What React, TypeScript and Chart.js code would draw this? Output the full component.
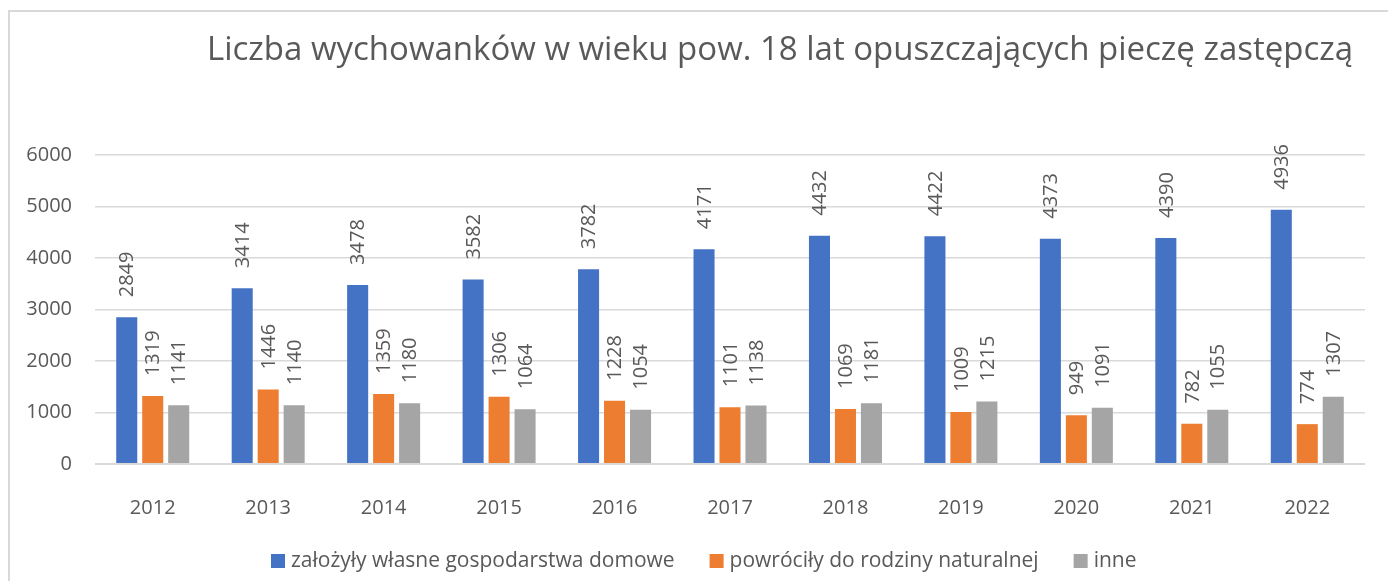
import React, { useEffect, useRef } from "react";
import { Chart, registerables } from "chart.js";

Chart.register(...registerables);

const TITLE = "Liczba wychowanków w wieku pow. 18 lat opuszczających pieczę zastępczą";
const categories = ["2012", "2013", "2014", "2015", "2016", "2017", "2018", "2019", "2020", "2021", "2022"];
const seriesNames = ["założyły własne gospodarstwa domowe", "powróciły do rodziny naturalnej", "inne"];
const ownHousehold = [2849, 3414, 3478, 3582, 3782, 4171, 4432, 4422, 4373, 4390, 4936];
const returnedFamily = [1319, 1446, 1359, 1306, 1228, 1101, 1069, 1009, 949, 782, 774];
const other = [1141, 1140, 1180, 1064, 1054, 1138, 1181, 1215, 1091, 1055, 1307];
const yTicks = [0, 1000, 2000, 3000, 4000, 5000, 6000];

const COLORS = ["#4472C4", "#ED7D31", "#A5A5A5"];
const TEXT = "#595959";
const FONT = "'Open Sans', 'Noto Sans', sans-serif";

const overlayPlugin = {
  id: "overlay",
  afterDatasetsDraw(chart: any) {
    const ctx = chart.ctx;
    ctx.save();
    ctx.fillStyle = TEXT;
    ctx.font = `20px ${FONT}`;
    chart.data.datasets.forEach((ds: any, i: number) => {
      const meta = chart.getDatasetMeta(i);
      meta.data.forEach((el: any, j: number) => {
        ctx.save();
        ctx.translate(el.x + 1, el.y - 20);
        ctx.rotate(-Math.PI / 2);
        ctx.textAlign = "left";
        ctx.textBaseline = "middle";
        ctx.fillText(String(ds.data[j]), 0, 0);
        ctx.restore();
      });
    });
    ctx.restore();
  },
  afterDraw(chart: any) {
    const ctx = chart.ctx;
    ctx.save();
    // title
    ctx.fillStyle = TEXT;
    ctx.font = `33px ${FONT}`;
    ctx.textAlign = "center";
    ctx.textBaseline = "middle";
    ctx.fillText(TITLE, 780, 51);
    // legend
    ctx.font = `21px ${FONT}`;
    ctx.textAlign = "left";
    let x = 271;
    const y = 561;
    seriesNames.forEach((name, i) => {
      ctx.fillStyle = COLORS[i];
      ctx.fillRect(x, y - 7, 14, 14);
      ctx.fillStyle = TEXT;
      ctx.fillText(name, x + 20, y);
      x += 20 + ctx.measureText(name).width + 35;
    });
    ctx.restore();
  },
};

export default function App() {
  const ref = useRef<HTMLCanvasElement | null>(null);
  useEffect(() => {
    if (!ref.current) return;
    const chart = new Chart(ref.current, {
      type: "bar",
      data: {
        labels: categories,
        datasets: [ownHousehold, returnedFamily, other].map((d, i) => ({
          label: seriesNames[i],
          data: d,
          backgroundColor: COLORS[i],
          borderWidth: 0,
          categoryPercentage: 0.675,
          barPercentage: 0.81,
        })),
      },
      options: {
        responsive: false,
        animation: false,
        devicePixelRatio: 1,
        layout: { padding: { top: 155, right: 23, left: 0, bottom: 0 } },
        plugins: {
          legend: { display: false },
          title: { display: false },
          tooltip: { enabled: false },
        },
        scales: {
          x: {
            grid: { display: false },
            border: { display: false },
            ticks: { color: TEXT, font: { family: FONT, size: 20 }, padding: 24 },
            afterFit: (s: any) => {
              s.height = 117;
            },
          },
          y: {
            min: 0,
            max: 6000,
            afterBuildTicks: (s: any) => {
              s.ticks = yTicks.map((v) => ({ value: v }));
            },
            grid: {
              color: "#D9D9D9",
              lineWidth: (c: any) => (c.tick && c.tick.value === 0 ? 2 : 1.4),
              drawTicks: false,
            },
            border: { display: false },
            ticks: {
              color: TEXT,
              font: { family: FONT, size: 20 },
              padding: 23,
              callback: (v: any) => String(v),
            },
            afterFit: (s: any) => {
              s.width = 95;
            },
          },
        },
      },
      plugins: [overlayPlugin],
    });
    return () => chart.destroy();
  }, []);

  return (
    <div
      style={{
        position: "fixed",
        left: 0,
        top: 0,
        width: 1388,
        height: 581,
        overflow: "hidden",
        background: "#fff",
      }}
    >
      <div
        style={{
          position: "absolute",
          left: 8,
          top: 10,
          width: 1500,
          height: 700,
          border: "2px solid #D9D9D9",
        }}
      />
      <canvas ref={ref} width={1388} height={581} style={{ position: "absolute", left: 0, top: 0 }} />
    </div>
  );
}
